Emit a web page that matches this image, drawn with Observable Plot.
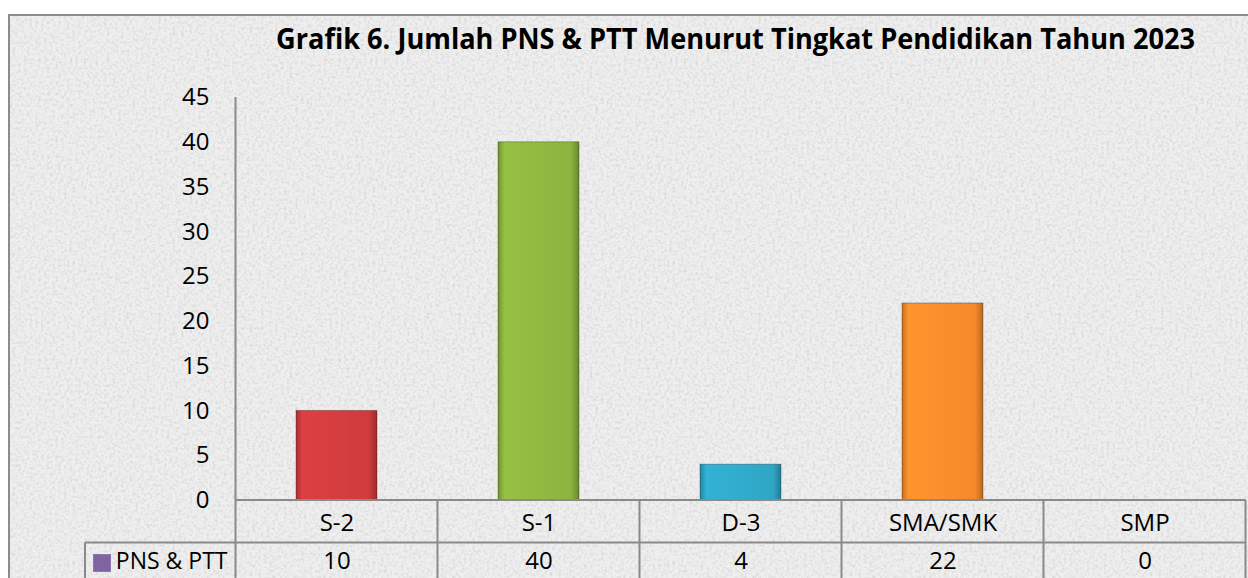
<!DOCTYPE html>
<html>
<head>
<meta charset="utf-8">
<script src="https://cdn.jsdelivr.net/npm/d3@7"></script>
<script src="https://cdn.jsdelivr.net/npm/@observablehq/plot@0.6"></script>
<style>
  html, body { margin: 0; padding: 0; background: #ffffff; }
  #page { position: relative; width: 1248px; height: 578px; overflow: hidden; }
  #panel { position: absolute; left: 8px; top: 14px; width: 1300px; height: 620px;
           border: 2px solid #8c8c8c; box-sizing: border-box;
           background-color: #eaeaea; }
  #title { position: absolute; left: 276px; top: 19px; white-space: nowrap;
           font-family: "Open Sans", sans-serif;
           font-weight: bold; font-size: 28px; color: #000; transform-origin: 0 0; }
  #chart { position: absolute; left: 0; top: 80px; }
</style>
</head>
<body>
<div id="page">
  <div id="panel"></div>
  <div id="title">Grafik 6. Jumlah PNS &amp; PTT Menurut Tingkat Pendidikan Tahun 2023</div>
  <div id="chart"></div>
</div>
<script>
const categories = ["S-2", "S-1", "D-3", "SMA/SMK", "SMP"];
const values = [10, 40, 4, 22, 0];
const barColors = ["#cf3b3d", "#8cb43f", "#2fa6c6", "#f68a2a", "#8064a2"];
const seriesName = "PNS & PTT";
const legendColor = "#8064a2";
const yTicks = [0, 5, 10, 15, 20, 25, 30, 35, 40, 45];

// mottled paper-like texture for the chart panel (generated locally, no network)
const noise = `<svg xmlns='http://www.w3.org/2000/svg' width='300' height='300'><filter id='n'><feTurbulence type='fractalNoise' baseFrequency='0.35' numOctaves='3' seed='4'/><feColorMatrix type='matrix' values='0 0 0 0 0.55  0 0 0 0 0.55  0 0 0 0 0.55  0 0 0 1.1 -0.45'/></filter><rect width='300' height='300' fill='#efefef'/><rect width='300' height='300' filter='url(#n)'/></svg>`;
document.getElementById("panel").style.backgroundImage = `url("data:image/svg+xml,${encodeURIComponent(noise)}")`;

const FONT = '"Open Sans", sans-serif';
const FS = 24;
const data = categories.map((c, i) => ({category: c, value: values[i], grad: `url(#bar-grad-${i})`}));

const chart = Plot.plot({
  width: 1248,
  height: 498,
  marginLeft: 235,
  marginRight: 2,
  marginTop: 17,
  marginBottom: 78,
  style: {background: "transparent", fontFamily: FONT, fontSize: `${FS}px`, color: "#000", overflow: "visible"},
  x: {domain: categories, paddingInner: 0.6, paddingOuter: 0.3, label: null, tickSize: 0, tickPadding: 13},
  y: {domain: [0, 45], ticks: yTicks, label: null, tickSize: 0, tickPadding: 26},
  color: {type: "identity"},
  marks: [
    Plot.barY(data, {x: "category", y: "value", fill: "grad", stroke: "rgba(0,0,0,0.28)", strokeWidth: 1}),
    Plot.text(data, {x: "category", text: d => String(d.value), frameAnchor: "bottom", dy: 68, fontSize: FS, fill: "#000"}),
    Plot.text([seriesName], {text: d => d, frameAnchor: "bottom-left", textAnchor: "end", dx: -8, dy: 68, fontSize: 23, fill: "#000"}),
    Plot.dot([seriesName], {frameAnchor: "bottom-left", symbol: "square", r: 10, fill: legendColor, dx: -133.5, dy: 62.5})
  ]
});

// gradients for bevel-like bars
const svg = d3.select(chart);
const defs = svg.insert("defs", ":first-child");
barColors.forEach((c, i) => {
  const base = d3.color(c);
  const g = defs.append("linearGradient").attr("id", `bar-grad-${i}`).attr("x1", 0).attr("x2", 1).attr("y1", 0).attr("y2", 0);
  g.append("stop").attr("offset", "0%").attr("stop-color", base.darker(0.6));
  g.append("stop").attr("offset", "8%").attr("stop-color", base.brighter(0.2));
  g.append("stop").attr("offset", "90%").attr("stop-color", base);
  g.append("stop").attr("offset", "100%").attr("stop-color", base.darker(0.8));
});

// table grid drawn from the plot's own scales
const xs = chart.scale("x");
const ys = chart.scale("y");
const yTop = ys.apply(45);
const yZero = ys.apply(0);
const H = 498;
const rowSplit = yZero + (H - yZero) * 0.545;
const tableLeft = 85;
const bw = xs.bandwidth;
const centers = categories.map(c => xs.apply(c) + bw / 2);
const step = centers[1] - centers[0];
const bounds = categories.map((c, i) => centers[i] - step / 2).concat([centers[centers.length - 1] + step / 2]);
const grid = svg.append("g").attr("stroke", "#8a8a8a").attr("stroke-width", 2).attr("fill", "none");
grid.append("line").attr("x1", bounds[0]).attr("x2", bounds[0]).attr("y1", yTop).attr("y2", H);
grid.append("line").attr("x1", bounds[0]).attr("x2", bounds[bounds.length - 1]).attr("y1", yZero).attr("y2", yZero);
grid.append("line").attr("x1", tableLeft).attr("x2", bounds[bounds.length - 1]).attr("y1", rowSplit).attr("y2", rowSplit);
grid.append("line").attr("x1", tableLeft).attr("x2", tableLeft).attr("y1", rowSplit).attr("y2", H);
bounds.slice(1).forEach(b => grid.append("line").attr("x1", b).attr("x2", b).attr("y1", yZero).attr("y2", H));

document.getElementById("chart").appendChild(chart);

// fit title to its measured width in the reference
const t = document.getElementById("title");
const w = t.getBoundingClientRect().width;
if (w > 0) t.style.transform = `scaleX(${919 / w})`;
</script>
</body>
</html>
